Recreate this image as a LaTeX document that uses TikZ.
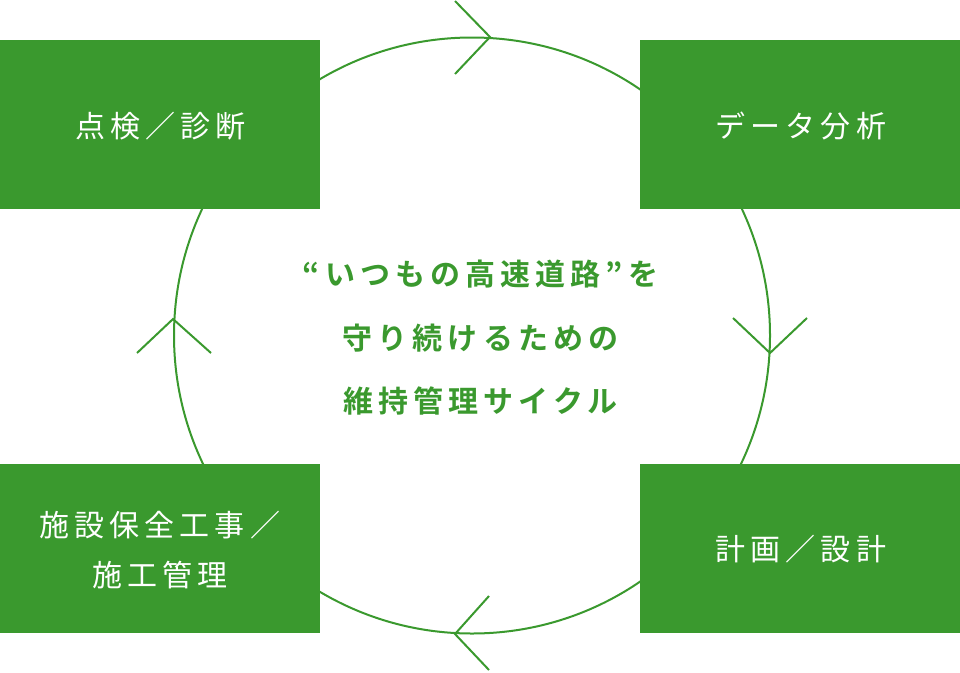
\documentclass[tikz,border=0pt]{standalone}
\usepackage{fontspec}
\newfontfamily\boxfont[LetterSpace=16.7]{Noto Sans CJK JP}
\newfontfamily\centerfont[LetterSpace=17]{Noto Sans CJK JP Bold}
\definecolor{cgreen}{RGB}{58,153,46}
\tikzset{
  box/.style={fill=cgreen, draw=none, minimum width=320pt, minimum height=169pt, inner sep=0pt},
  boxtext/.style={text=white, font=\boxfont\fontsize{30pt}{50pt}\selectfont, align=center, inner sep=0pt},
  ctext/.style={text=cgreen, font=\centerfont\fontsize{30pt}{63.5pt}\selectfont, align=center, inner sep=0pt},
  ring/.style={draw=cgreen, line width=2pt},
  chev/.style={draw=cgreen, line width=2pt, line cap=butt, line join=miter}
}
\begin{document}
\begin{tikzpicture}[x=1pt,y=-1pt]
\useasboundingbox (0,0) rectangle (960,672);
\node[circle, ring, minimum size=596pt, inner sep=0pt] (ring) at (472,335.5) {};
% chevrons
\coordinate (tt) at (490,37);
\coordinate (tr) at (770,353);
\coordinate (tb) at (455,634);
\coordinate (tl) at (173,319);
\draw[chev] ([shift={(-35,-36)}]tt) -- (tt) -- ([shift={(-35,37)}]tt);
\draw[chev] ([shift={(-37,-35)}]tr) -- (tr) -- ([shift={(37,-35)}]tr);
\draw[chev] ([shift={(34,-38)}]tb) -- (tb) -- ([shift={(34,36)}]tb);
\draw[chev] ([shift={(-36,34)}]tl) -- (tl) -- ([shift={(38,34)}]tl);
% boxes
\node[box] (b1) at (160,124.5) {};
\node[box] (b2) at (800,124.5) {};
\node[box] (b3) at (800,548.5) {};
\node[box] (b4) at (160,548.5) {};
\node[boxtext] (t1) at (161,126) {点検／診断};
\node[boxtext] (t2) at (801,126) {データ分析};
\node[boxtext] (t3) at (801,549) {計画／設計};
\node[boxtext] (t4) at (160,550) {施設保全工事／\\施工管理};
\node[ctext] (c) at (480.5,338) {“いつもの高速道路”を\\守り続けるための\\維持管理サイクル};
\end{tikzpicture}
\end{document}
